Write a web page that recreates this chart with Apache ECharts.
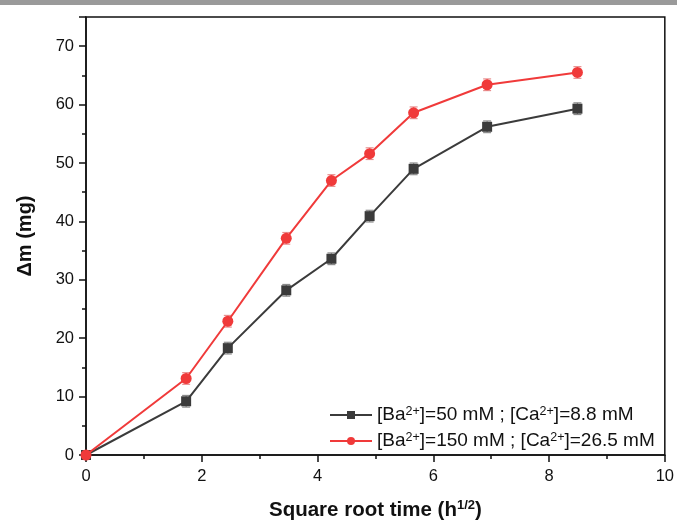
<!DOCTYPE html>
<html>
<head>
<meta charset="utf-8">
<script src="https://cdn.jsdelivr.net/npm/echarts@6/dist/echarts.min.js"></script>
<style>
  html, body { margin: 0; padding: 0; background: #fff; }
  #chart { position: absolute; left: 0; top: 0; width: 677px; height: 526px; }
  .top-bar { position: absolute; left: 0; top: 0; width: 677px; height: 5px; background: #9a9a9a; z-index: 2; }
</style>
</head>
<body>
<div id="chart"></div>
<div class="top-bar"></div>
<script>
// square root of time (h^1/2)
const sqrtTime = [0, 1.73, 2.45, 3.46, 4.24, 4.9, 5.66, 6.93, 8.49];
// Δm (mg) for [Ba2+]=50 mM ; [Ca2+]=8.8 mM
const massLow = [0, 9.2, 18.3, 28.2, 33.6, 40.9, 49.0, 56.2, 59.3];
const errLow = [0.3, 1.0, 1.0, 1.0, 1.0, 1.0, 1.0, 1.0, 1.0];
// Δm (mg) for [Ba2+]=150 mM ; [Ca2+]=26.5 mM
const massHigh = [0, 13.1, 22.9, 37.1, 47.0, 51.6, 58.6, 63.4, 65.5];
const errHigh = [0.3, 1.0, 1.0, 1.0, 1.0, 1.0, 1.0, 1.0, 1.0];

const nameLow = "low";
const nameHigh = "high";
const legendText = {
  low: "[Ba{sup|2+}]=50 mM ; [Ca{sup|2+}]=8.8 mM",
  high: "[Ba{sup|2+}]=150 mM ; [Ca{sup|2+}]=26.5 mM",
};

const pairs = (ys) => sqrtTime.map((x, i) => [x, ys[i]]);
const withErr = (ys, es) => sqrtTime.map((x, i) => [x, ys[i], es[i]]);

// 误差棒
const errorBar = (color) => (params, api) => {
  const x = api.value(0);
  const y = api.value(1);
  const e = api.value(2);
  const lo = api.coord([x, y - e]);
  const hi = api.coord([x, y + e]);
  const w = 4;
  const style = { stroke: color, lineWidth: 1.2 };
  return {
    type: "group",
    children: [
      { type: "line", shape: { x1: lo[0], y1: lo[1], x2: hi[0], y2: hi[1] }, style },
      { type: "line", shape: { x1: lo[0] - w, y1: lo[1], x2: lo[0] + w, y2: lo[1] }, style },
      { type: "line", shape: { x1: hi[0] - w, y1: hi[1], x2: hi[0] + w, y2: hi[1] }, style },
    ],
  };
};

const labelFont = { fontFamily: "Liberation Sans, Arial, sans-serif", color: "#111" };

const myChart = echarts.init(document.getElementById("chart"));
myChart.setOption({
  animation: false,
  backgroundColor: "#fff",
  grid: {
    left: 86,
    right: 10,
    top: 17,
    bottom: 67,
    show: true,
    borderColor: "#111",
    borderWidth: 1.5,
  },
  legend: {
    data: [nameLow, nameHigh],
    orient: "vertical",
    left: 324,
    top: 399,
    itemWidth: 42,
    itemHeight: 10,
    itemGap: 4,
    formatter: (name) => legendText[name],
    textStyle: {
      ...labelFont,
      fontSize: 19,
      lineHeight: 22,
      rich: {
        sup: { ...labelFont, fontSize: 12.5, verticalAlign: "bottom", lineHeight: 22, padding: [0, 0, 8, 0] },
      },
    },
  },
  xAxis: {
    type: "value",
    min: 0,
    max: 10,
    interval: 2,
    name: "Square root time (h{sup|1/2})",
    nameLocation: "middle",
    nameGap: 44,
    nameTextStyle: {
      ...labelFont,
      fontSize: 20.5,
      fontWeight: "bold",
      rich: {
        sup: { ...labelFont, fontSize: 13, fontWeight: "bold", verticalAlign: "bottom", padding: [0, 0, 10, 0] },
      },
    },
    axisLine: { lineStyle: { color: "#111", width: 1.5 } },
    axisTick: { length: 7, lineStyle: { color: "#111", width: 1.5 } },
    minorTick: { show: true, splitNumber: 2, length: 4, lineStyle: { color: "#111", width: 1.5 } },
    axisLabel: { ...labelFont, fontSize: 16.5, margin: 13 },
    splitLine: { show: false },
  },
  yAxis: {
    type: "value",
    min: 0,
    max: 75,
    interval: 10,
    name: "Δm (mg)",
    nameLocation: "middle",
    nameGap: 51,
    nameTextStyle: { ...labelFont, fontSize: 20, fontWeight: "bold" },
    axisLine: { lineStyle: { color: "#111", width: 1.5 } },
    axisTick: { length: 7, lineStyle: { color: "#111", width: 1.5 } },
    minorTick: { show: true, splitNumber: 2, length: 4, lineStyle: { color: "#111", width: 1.5 } },
    axisLabel: { ...labelFont, fontSize: 16.5, margin: 12, showMaxLabel: false },
    splitLine: { show: false },
  },
  series: [
    {
      type: "custom",
      renderItem: errorBar("#8a8a8a"),
      data: withErr(massLow, errLow),
      z: 1,
      silent: true,
    },
    {
      type: "custom",
      renderItem: errorBar("#e89090"),
      data: withErr(massHigh, errHigh),
      z: 1,
      silent: true,
    },
    {
      name: nameLow,
      type: "line",
      data: pairs(massLow),
      color: "#3b3b3b",
      symbol: "rect",
      symbolSize: 10,
      lineStyle: { width: 2 },
      z: 3,
    },
    {
      name: nameHigh,
      type: "line",
      data: pairs(massHigh),
      color: "#f03a3a",
      symbol: "circle",
      symbolSize: 11,
      lineStyle: { width: 2 },
      z: 4,
    },
  ],
});
window.addEventListener("resize", function () {
  myChart.resize();
});
</script>
</body>
</html>
